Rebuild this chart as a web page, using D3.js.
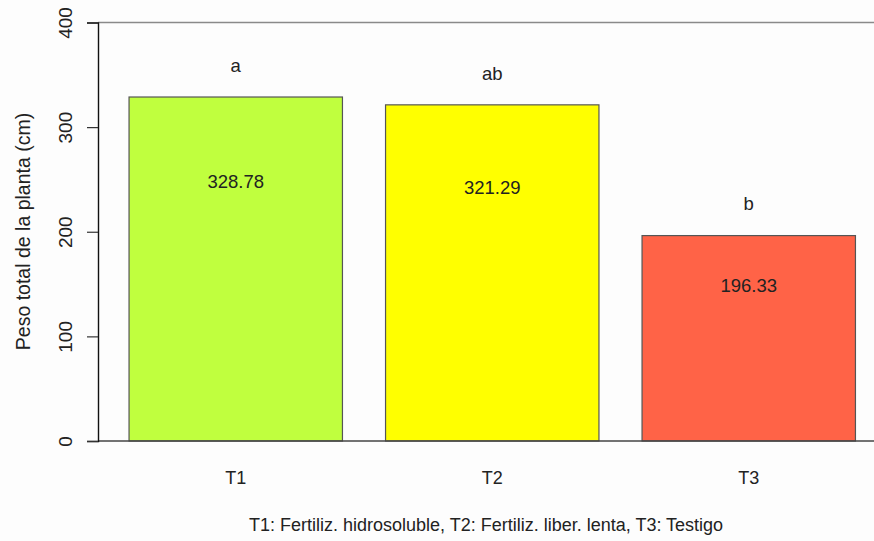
<!DOCTYPE html>
<html>
<head>
<meta charset="utf-8">
<script src="https://cdn.jsdelivr.net/npm/d3@7"></script>
<style>
  html, body { margin: 0; padding: 0; background: #fdfdfd; }
  text { font-family: "Liberation Sans", Arial, sans-serif; fill: #222; }
</style>
</head>
<body>
<svg id="chart" width="874" height="541"></svg>
<script>
const categories = ["T1", "T2", "T3"];
const values = [328.78, 321.29, 196.33];
const valueLabels = ["328.78", "321.29", "196.33"];
const groupLetters = ["a", "ab", "b"];
const barColors = ["#C0FF3E", "#FFFF00", "#FF6347"];
const yTicks = [0, 100, 200, 300, 400];
const yTitle = "Peso total de la planta (cm)";
const footnote = "T1: Fertiliz. hidrosoluble, T2: Fertiliz. liber. lenta, T3: Testigo";

const svg = d3.select("#chart");
const W = 874, H = 541;
const axisX = 98;

const y = d3.scaleLinear().domain([0, 400]).range([441, 22.5]);
const x = d3.scaleBand().domain(categories).range([107.5, 877]).paddingInner(0.168).paddingOuter(0.084);

// top reference line at 400
svg.append("line").attr("x1", axisX).attr("x2", W).attr("y1", y(400)).attr("y2", y(400))
  .attr("stroke", "#8a8a8a").attr("stroke-width", 1.6);

// bars
svg.selectAll("rect.bar").data(categories).enter().append("rect")
  .attr("class", "bar")
  .attr("x", d => x(d))
  .attr("width", x.bandwidth())
  .attr("y", (d, i) => y(values[i]))
  .attr("height", (d, i) => y(0) - y(values[i]))
  .attr("fill", (d, i) => barColors[i])
  .attr("stroke", "#555").attr("stroke-width", 1.2);

// baseline
svg.append("line").attr("x1", axisX).attr("x2", W).attr("y1", y(0)).attr("y2", y(0))
  .attr("stroke", "#444").attr("stroke-width", 1.4);

// y axis
const yAxis = d3.axisLeft(y).tickValues(yTicks).tickSize(11).tickPadding(0).tickFormat(d3.format("d"));
const gy = svg.append("g").attr("transform", `translate(${axisX},0)`).call(yAxis);
gy.select(".domain").attr("stroke", "#111").attr("stroke-width", 1.4);
gy.selectAll(".tick line").attr("stroke", "#333").attr("stroke-width", 1.2);
gy.selectAll(".tick text")
  .attr("font-size", 19).attr("fill", "#222")
  .attr("text-anchor", "middle")
  .attr("x", 0).attr("dy", 0)
  .attr("transform", "translate(-26,0) rotate(-90)");

// y title
svg.append("text")
  .attr("transform", `translate(30,${(111 + 352) / 2}) rotate(-90)`)
  .attr("text-anchor", "middle")
  .attr("font-size", 19.5)
  .text(yTitle);

// category labels
svg.selectAll("text.cat").data(categories).enter().append("text")
  .attr("class", "cat")
  .attr("x", d => x(d) + x.bandwidth() / 2)
  .attr("y", 484)
  .attr("text-anchor", "middle")
  .attr("font-size", 18)
  .text(d => d);

// value labels inside bars
svg.selectAll("text.val").data(categories).enter().append("text")
  .attr("class", "val")
  .attr("x", d => x(d) + x.bandwidth() / 2)
  .attr("y", (d, i) => y(values[i] * 0.755) + 6.5)
  .attr("text-anchor", "middle")
  .attr("font-size", 18.5)
  .text((d, i) => valueLabels[i]);

// significance letters
svg.selectAll("text.letter").data(categories).enter().append("text")
  .attr("class", "letter")
  .attr("x", d => x(d) + x.bandwidth() / 2)
  .attr("y", (d, i) => y(values[i] + 29) + 5)
  .attr("text-anchor", "middle")
  .attr("font-size", 18.5)
  .text((d, i) => groupLetters[i]);

// footnote
svg.append("text")
  .attr("x", 486).attr("y", 531)
  .attr("text-anchor", "middle")
  .attr("font-size", 18)
  .text(footnote);
</script>
</body>
</html>
